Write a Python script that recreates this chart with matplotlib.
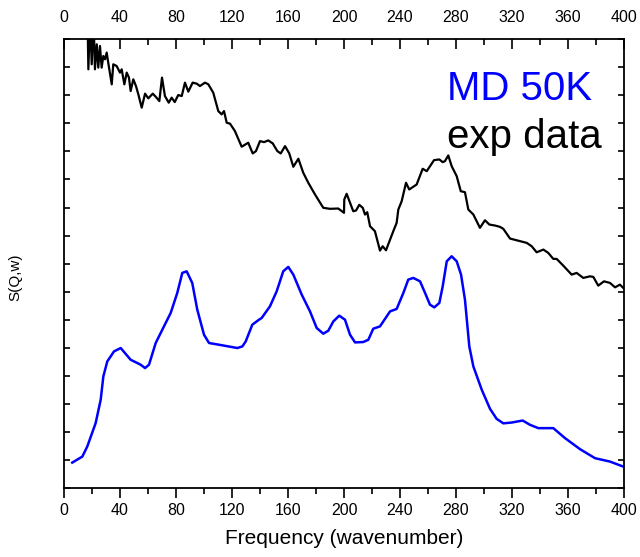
#!/usr/bin/env python3
import numpy as np
import matplotlib
matplotlib.use("Agg")
import matplotlib.pyplot as plt
from matplotlib.ticker import MultipleLocator

plt.rcParams['font.family'] = ['Liberation Sans', 'DejaVu Sans']

# MD 50K (arbitrary units)
md_freq = [5.9, 13.1, 16.6, 22.6, 26.2, 28.1, 30.9, 35.7, 40.5, 47.6, 54.8, 57.9,
           60.7, 65.5, 71.4, 76.2, 80.9, 84.5, 87.6, 91.6, 95.2, 100.0, 103.6,
           110.7, 123.8, 127.4, 129.8, 134.5, 139.3, 141.2, 147.1, 151.9, 156.6,
           160.2, 163.8, 169.8, 175.7, 180.5, 185.2, 188.8, 192.4, 196.6, 200.7,
           204.3, 207.9, 213.8, 217.4, 220.9, 225.7, 232.9, 237.6, 242.4, 245.9,
           249.5, 254.3, 257.9, 261.4, 264.5, 268.1, 270.5, 273.4, 276.9, 280.5,
           283.6, 286.4, 289.5, 292.4, 298.4, 304.3, 309.0, 313.8, 319.8, 327.6,
           332.9, 338.8, 349.5, 357.9, 368.6, 379.3, 390.0, 399.5]
md_sqw = [25.3, 31.3, 41.3, 64.7, 88.0, 111.3, 126.3, 136.3, 139.7, 128.0, 123.0,
          119.7, 123.0, 144.7, 161.3, 174.7, 194.7, 214.7, 216.3, 204.7, 178.0,
          153.0, 144.7, 143.0, 139.7, 141.3, 146.3, 163.0, 168.0, 169.7, 181.3,
          196.3, 216.3, 220.7, 213.0, 193.0, 176.3, 159.7, 154.0, 157.0, 166.3,
          172.0, 168.0, 153.0, 145.3, 145.7, 148.0, 159.0, 161.3, 176.3, 178.7,
          194.7, 208.0, 209.7, 206.3, 194.7, 183.0, 180.3, 184.7, 201.3, 226.3,
          231.3, 226.3, 213.0, 188.0, 141.3, 121.3, 98.0, 79.0, 69.0, 64.5, 65.3,
          67.3, 63.0, 59.7, 59.7, 49.7, 38.7, 29.7, 26.3, 21.3]

# experimental data (arbitrary units)
exp_freq = [16.8, 17.4, 18.6, 19.8, 21.1, 22.1, 23.4, 24.5, 25.7, 26.9, 28.1, 29.3,
            30.5, 31.6, 34.1, 35.2, 37.6, 40.0, 41.2, 43.1, 44.8, 46.4, 47.6, 49.5,
            51.4, 53.1, 55.5, 57.9, 60.2, 63.4, 65.7, 68.1, 70.0, 72.1, 74.8, 76.9,
            79.1, 81.6, 84.1, 86.4, 88.8, 91.9, 94.8, 97.1, 100.7, 103.1, 106.6,
            110.2, 112.6, 114.3, 116.2, 118.6, 122.1, 125.2, 126.9, 131.6, 134.8,
            137.1, 140.0, 142.9, 145.9, 149.1, 152.4, 154.8, 157.9, 160.9, 163.8,
            167.4, 170.9, 174.5, 179.3, 185.2, 190.0, 195.9, 200.0, 200.2, 201.9,
            204.3, 206.6, 208.6, 210.9, 213.4, 215.0, 216.6, 218.6, 222.1, 225.7,
            227.6, 230.0, 232.9, 235.2, 237.6, 238.8, 241.2, 244.3, 246.6, 251.9,
            256.2, 259.1, 264.3, 268.1, 270.5, 272.1, 274.5, 276.9, 280.5, 283.4,
            286.4, 288.8, 292.4, 297.1, 300.7, 303.8, 307.9, 311.4, 313.8, 318.6,
            323.4, 330.5, 334.1, 337.6, 342.4, 345.9, 349.5, 351.9, 356.6, 362.6,
            366.2, 370.9, 375.7, 378.1, 381.6, 385.7, 390.0, 393.6, 397.1, 400.0]
exp_sqw = [470, 418, 470, 423, 470, 418, 443, 419.7, 441.3, 419.7, 431.3, 428,
           434.7, 424.7, 403, 423, 421.3, 414.7, 418, 403, 414.7, 409.7, 396.3, 408,
           401.3, 393, 379.7, 393.7, 389, 393.7, 390.3, 386.3, 409.7, 391.3, 384.7,
           389.7, 385.3, 392.3, 391.3, 404.7, 395.7, 404.7, 403.7, 401.3, 404.7, 403,
           394.7, 376.3, 373, 376.3, 364.7, 363.7, 356.3, 346.3, 340.7, 344.7, 334,
           336.3, 346.3, 345.3, 347, 344, 336.3, 334, 341.3, 334, 320.7, 328.7,
           314.7, 304.7, 293, 279.7, 278.7, 279, 274.7, 288, 293.7, 284.7, 276.3,
           277, 282.7, 279.7, 273, 275.3, 261.3, 256.3, 237, 241.3, 237.3, 248,
           256.3, 264.7, 278, 286.3, 304.7, 298, 303, 318.7, 316.3, 327.3, 328,
           325.3, 326.3, 332, 321.3, 311.3, 296.3, 295.3, 278, 273, 259.7, 267.3,
           263, 262, 260.7, 258.7, 249, 247.3, 244.7, 241.3, 235.3, 238, 234.7,
           228.7, 228.7, 222, 213, 214.7, 209.7, 211.3, 210.7, 202, 206.3, 204.7,
           200.3, 203, 199]


def main():
    fig = plt.figure(figsize=(6.4, 5.57), dpi=100)
    ax = fig.add_axes([0.1, 0.124, 0.875, 0.8055])

    ax.plot(exp_freq, exp_sqw, color='black', lw=1.6)
    ax.plot(md_freq, md_sqw, color='#0000ff', lw=1.8)

    ax.set_xlim(0, 400)
    ax.set_ylim(0, 448)

    ax.xaxis.set_major_locator(MultipleLocator(40))
    ax.xaxis.set_minor_locator(MultipleLocator(20))
    ax.yaxis.set_major_locator(MultipleLocator(28))
    ax.yaxis.set_minor_locator(MultipleLocator(28))

    ax.tick_params(axis='x', which='both', bottom=True, top=True,
                   labelbottom=True, labeltop=True, direction='out',
                   labelsize=11.5, width=1.2)
    ax.tick_params(axis='x', which='major', length=7)
    ax.tick_params(axis='x', which='minor', length=4)
    # ticks on top point inwards
    for t in ax.xaxis.get_major_ticks() + ax.xaxis.get_minor_ticks():
        t.tick2line.set_marker(3)
    ax.tick_params(axis='y', which='both', left=True, right=True,
                   labelleft=False, direction='in', length=4, width=1.2)

    for s in ax.spines.values():
        s.set_linewidth(1.3)

    ax.set_xlabel('Frequency (wavenumber)', fontsize=15, labelpad=8)
    ax.set_ylabel('S(Q,w)', fontsize=11)
    ax.yaxis.set_label_coords(-0.075, 0.47)

    ax.text(273.6, 387, 'MD 50K', color='#0000ff', fontsize=29, va='baseline')
    ax.text(273.6, 339, 'exp data', color='black', fontsize=29, va='baseline')

    fig.savefig('out.png', dpi=100)


if __name__ == "__main__":
    main()
